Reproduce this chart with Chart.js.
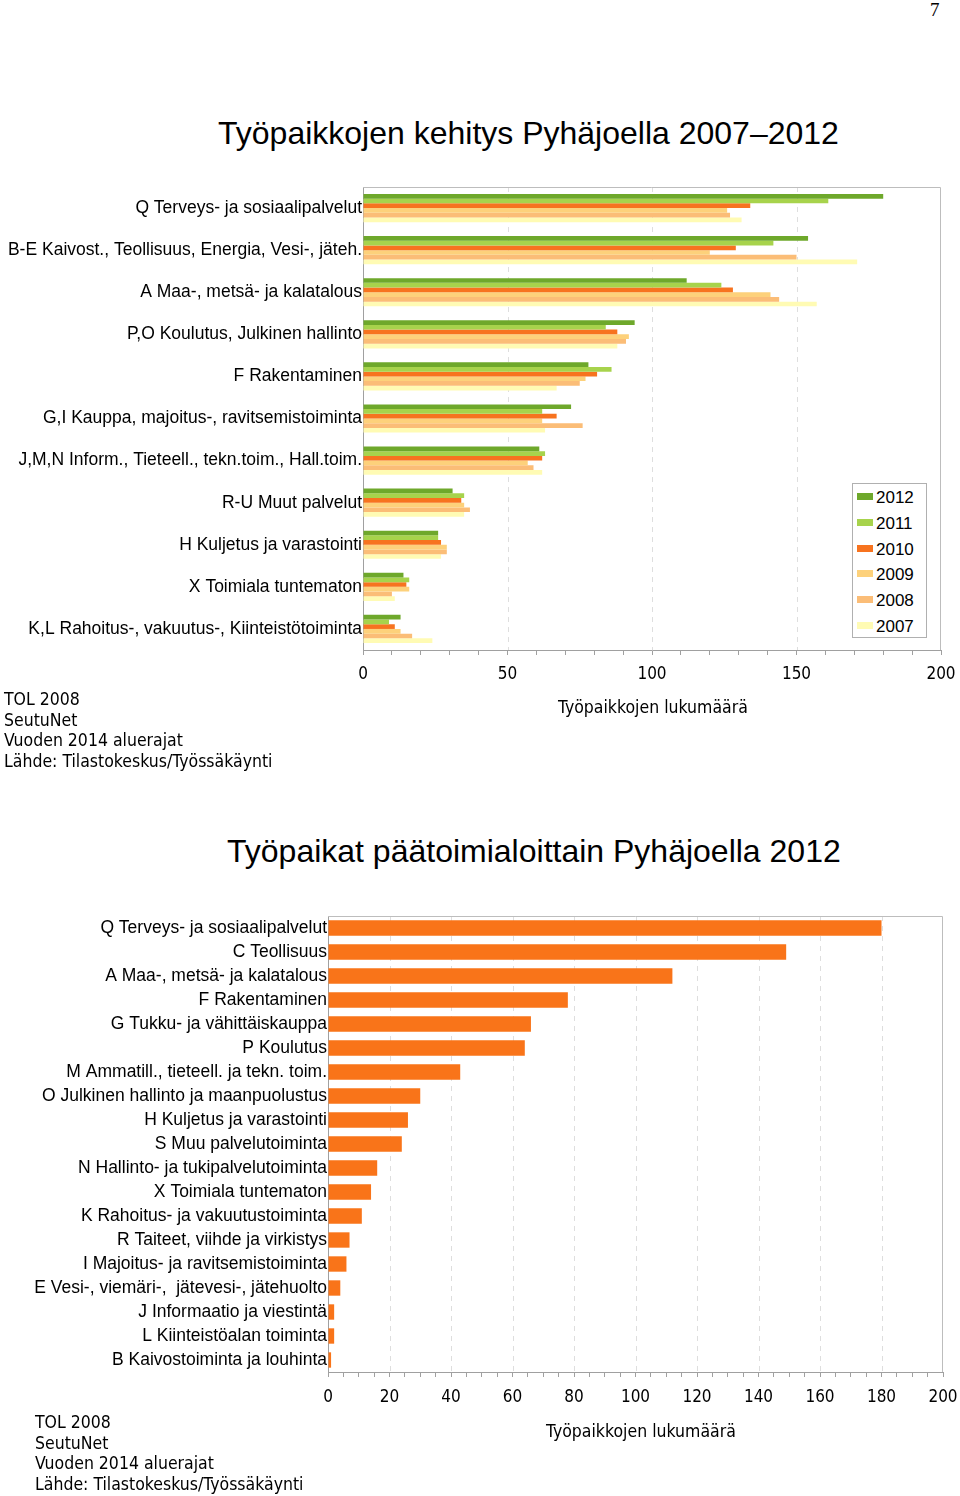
<!DOCTYPE html>
<html>
<head>
<meta charset="utf-8">
<script src="https://cdn.jsdelivr.net/npm/chart.js@4/dist/chart.umd.min.js"></script>
<style>
  body { margin: 0; background: #fff; width: 960px; height: 1496px; position: relative; overflow: hidden; }
  .t { position: absolute; white-space: nowrap; color: #000; line-height: 1; }
  .otsikko { font-family: "Liberation Sans", Arial, sans-serif; font-size: 32px; }
  .kapea { font-family: "DejaVu Sans Condensed", "Liberation Sans Narrow", sans-serif; font-size: 17.5px; }
  .lahde div { height: 20.6px; line-height: 20.6px; }
  canvas { position: absolute; left: 0; }
  #selite { position: absolute; left: 852px; top: 483px; width: 73px; height: 153px; border: 1px solid #b0b0b0; background: #fff; }
  #selite div { position: absolute; left: 4px; font-family: "Liberation Sans", Arial, sans-serif; font-size: 17px; line-height: 17px; }
  #selite span { display: inline-block; width: 16px; height: 7px; margin-right: 3px; vertical-align: 3px; }
</style>
</head>
<body>
<div class="t" style="left:930px;top:0px;font-family:'Liberation Serif',serif;font-size:19px;">7</div>

<div class="t otsikko" style="left:218px;top:117px;">Työpaikkojen kehitys Pyhäjoella 2007–2012</div>
<canvas id="kehitys" width="960" height="523" style="top:187px"></canvas>
<div id="selite"></div>
<div class="t kapea" style="left:558px;top:699px;">Työpaikkojen lukumäärä</div>
<div class="t kapea lahde" style="left:4px;top:689px;">
  <div>TOL 2008</div><div>SeutuNet</div><div>Vuoden 2014 aluerajat</div><div>Lähde: Tilastokeskus/Työssäkäynti</div>
</div>

<div class="t otsikko" style="left:227px;top:835px;">Työpaikat päätoimialoittain Pyhäjoella 2012</div>
<canvas id="toimialat" width="960" height="511" style="top:916px"></canvas>
<div class="t kapea" style="left:546px;top:1423px;">Työpaikkojen lukumäärä</div>
<div class="t kapea lahde" style="left:35px;top:1412px;">
  <div>TOL 2008</div><div>SeutuNet</div><div>Vuoden 2014 aluerajat</div><div>Lähde: Tilastokeskus/Työssäkäynti</div>
</div>

<script>
// Kehitys 2007-2012
var kehitysLuokat = [
  'Q Terveys- ja sosiaalipalvelut',
  'B-E Kaivost., Teollisuus, Energia, Vesi-, jäteh.',
  'A Maa-, metsä- ja kalatalous',
  'P,O Koulutus, Julkinen hallinto',
  'F Rakentaminen',
  'G,I Kauppa, majoitus-, ravitsemistoiminta',
  'J,M,N Inform., Tieteell., tekn.toim., Hall.toim.',
  'R-U Muut palvelut',
  'H Kuljetus ja varastointi',
  'X Toimiala tuntematon',
  'K,L Rahoitus-, vakuutus-, Kiinteistötoiminta'
];
var vuodet = ['2012', '2011', '2010', '2009', '2008', '2007'];
var v2012 = [180, 154, 112, 94, 78, 72, 61, 31, 26, 14, 13];
var v2011 = [161, 142, 124, 84, 86, 62, 63, 35, 26, 16, 9];
var v2010 = [134, 129, 128, 88, 81, 67, 62, 34, 27, 15, 11];
var v2009 = [126, 120, 141, 92, 77, 62, 57, 35, 29, 16, 13];
var v2008 = [127, 150, 144, 91, 75, 76, 59, 37, 29, 10, 17];
var v2007 = [131, 171, 157, 88, 67, 63, 62, 35, 27, 11, 24];
var kehitysTicks = [0, 50, 100, 150, 200];

// Toimialat 2012
var toimialaLuokat = [
  'Q Terveys- ja sosiaalipalvelut',
  'C Teollisuus',
  'A Maa-, metsä- ja kalatalous',
  'F Rakentaminen',
  'G Tukku- ja vähittäiskauppa',
  'P Koulutus',
  'M Ammatill., tieteell. ja tekn. toim.',
  'O Julkinen hallinto ja maanpuolustus',
  'H Kuljetus ja varastointi',
  'S Muu palvelutoiminta',
  'N Hallinto- ja tukipalvelutoiminta',
  'X Toimiala tuntematon',
  'K Rahoitus- ja vakuutustoiminta',
  'R Taiteet, viihde ja virkistys',
  'I Majoitus- ja ravitsemistoiminta',
  'E Vesi-, viemäri-,  jätevesi-, jätehuolto',
  'J Informaatio ja viestintä',
  'L Kiinteistöalan toiminta',
  'B Kaivostoiminta ja louhinta'
];
var tyopaikat2012 = [180, 149, 112, 78, 66, 64, 43, 30, 26, 24, 16, 14, 11, 7, 6, 4, 2, 2, 1];
var toimialaTicks = [0, 20, 40, 60, 80, 100, 120, 140, 160, 180, 200];

var vuosiVarit = ['#6ea82b', '#a7d34c', '#f7731f', '#fdd17b', '#fbbd77', '#fffbb4'];
var kapea = '"DejaVu Sans Condensed", "Liberation Sans Narrow", sans-serif';
var tavallinen = '"Liberation Sans", Arial, sans-serif';

// dashed grid lines + light frame on top and right
var kehysPlugin = {
  id: 'kehys',
  beforeDatasetsDraw: function(chart, args, opts) {
    var ctx = chart.ctx, a = chart.chartArea, x = chart.scales.x;
    ctx.save();
    ctx.lineWidth = 1;
    ctx.strokeStyle = '#dedede';
    ctx.setLineDash([5, 5]);
    opts.viivat.forEach(function(v) {
      var px = Math.round(x.getPixelForValue(v)) + 0.5;
      ctx.beginPath(); ctx.moveTo(px, a.top); ctx.lineTo(px, a.bottom); ctx.stroke();
    });
    ctx.setLineDash([]);
    ctx.strokeStyle = '#bdbdbd';
    ctx.beginPath();
    ctx.moveTo(a.left, a.top + 0.5);
    ctx.lineTo(Math.round(a.right) - 0.5, a.top + 0.5);
    ctx.lineTo(Math.round(a.right) - 0.5, a.bottom);
    ctx.stroke();
    ctx.restore();
  }
};

function xAkseli(step, major, korkeus, pad) {
  return {
    min: 0, max: 200,
    ticks: {
      stepSize: step, autoSkip: false, maxRotation: 0, padding: pad, color: '#000',
      font: { family: kapea, size: 17 },
      callback: function(v) { return v % major === 0 ? v : ''; }
    },
    grid: { drawOnChartArea: false, drawTicks: true, tickLength: 5, color: '#a0a0a0' },
    border: { color: '#a0a0a0' },
    afterFit: function(s) { s.height = korkeus; s.paddingLeft = 0; s.paddingRight = 0; }
  };
}
function yAkseli(leveys) {
  return {
    grid: { display: false, drawTicks: false },
    border: { color: '#a0a0a0' },
    ticks: { padding: 1, color: '#000', font: { family: tavallinen, size: 17.5 } },
    afterFit: function(s) { s.width = leveys; s.paddingTop = 0; s.paddingBottom = 0; }
  };
}

var sarjat = [v2012, v2011, v2010, v2009, v2008, v2007];
new Chart(document.getElementById('kehitys'), {
  type: 'bar',
  data: {
    labels: kehitysLuokat,
    datasets: sarjat.map(function(d, i) {
      return { label: vuodet[i], data: d, backgroundColor: vuosiVarit[i], borderWidth: 0,
               categoryPercentage: 0.67, barPercentage: 1 };
    })
  },
  options: {
    indexAxis: 'y', responsive: false, animation: false, devicePixelRatio: 1,
    layout: { padding: { left: 0, right: 19, top: 0, bottom: 0 } },
    scales: { x: xAkseli(10, 50, 60, 9), y: yAkseli(363) },
    plugins: { legend: { display: false }, tooltip: { enabled: false },
               kehys: { viivat: kehitysTicks.slice(1, -1) } }
  },
  plugins: [kehysPlugin]
});

// legend box
var selite = document.getElementById('selite');
vuodet.forEach(function(v, i) {
  var d = document.createElement('div');
  d.style.top = (5 + i * 25.8) + 'px';
  d.innerHTML = '<span style="background:' + vuosiVarit[i] + '"></span>' + v;
  selite.appendChild(d);
});

new Chart(document.getElementById('toimialat'), {
  type: 'bar',
  data: {
    labels: toimialaLuokat,
    datasets: [{ label: '2012', data: tyopaikat2012, backgroundColor: '#f97419',
                 borderWidth: 0, categoryPercentage: 0.64, barPercentage: 1 }]
  },
  options: {
    indexAxis: 'y', responsive: false, animation: false, devicePixelRatio: 1,
    layout: { padding: { left: 0, right: 17, top: 0, bottom: 0 } },
    scales: { x: xAkseli(5, 20, 55, 10), y: yAkseli(328) },
    plugins: { legend: { display: false }, tooltip: { enabled: false },
               kehys: { viivat: toimialaTicks.slice(1, -1) } }
  },
  plugins: [kehysPlugin]
});
</script>
</body>
</html>
